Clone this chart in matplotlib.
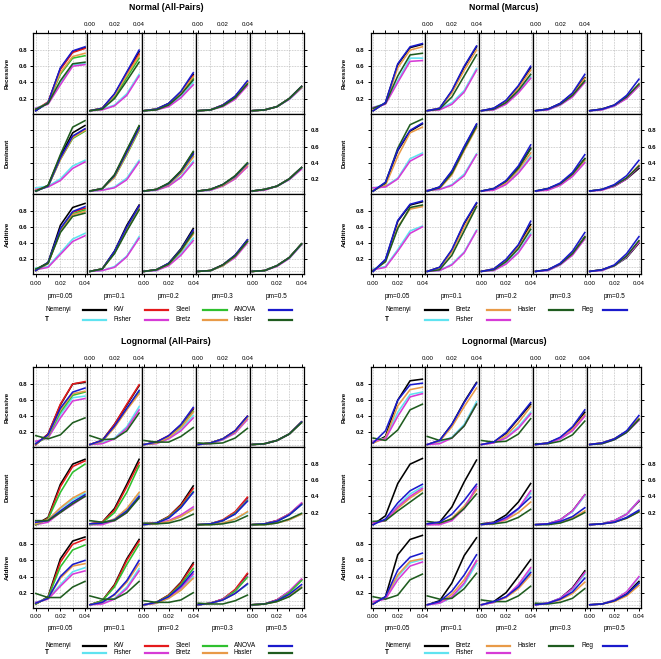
import matplotlib.pyplot as plt
from matplotlib.lines import Line2D

plt.rcParams['font.family'] = ['Liberation Sans', 'DejaVu Sans']

# ---------- data: power curves, [model][pm column][x point] ----------
x_vals = [0.00, 0.01, 0.02, 0.03, 0.04]
pm_labels = ['pm=0.05', 'pm=0.1', 'pm=0.2', 'pm=0.3', 'pm=0.5']
model_labels = ['Recessive', 'Dominant', 'Additive']
y_ticks = [0.2, 0.4, 0.6, 0.8]
x_tick_labels = ['0.00', '', '0.02', '', '0.04']

# Normal (All-Pairs)
na_nemenyi = [[[0.05,0.15,0.57,0.78,0.83],[0.05,0.08,0.25,0.52,0.78],[0.05,0.07,0.14,0.28,0.50],[0.05,0.06,0.12,0.22,0.41],[0.05,0.06,0.10,0.20,0.35]],
              [[0.05,0.12,0.48,0.77,0.86],[0.05,0.08,0.25,0.55,0.85],[0.05,0.07,0.14,0.30,0.53],[0.05,0.07,0.13,0.23,0.39],[0.05,0.07,0.11,0.20,0.34]],
              [[0.07,0.16,0.62,0.84,0.89],[0.05,0.08,0.30,0.62,0.87],[0.05,0.07,0.15,0.33,0.58],[0.05,0.06,0.13,0.25,0.44],[0.05,0.06,0.12,0.22,0.39]]]
na_t = [[[0.08,0.14,0.39,0.62,0.63],[0.05,0.07,0.12,0.26,0.50],[0.05,0.06,0.11,0.22,0.40],[0.05,0.06,0.11,0.20,0.37],[0.05,0.06,0.10,0.19,0.33]],
        [[0.09,0.11,0.20,0.36,0.43],[0.05,0.06,0.10,0.21,0.43],[0.05,0.06,0.12,0.23,0.42],[0.05,0.06,0.12,0.21,0.36],[0.05,0.07,0.11,0.19,0.33]],
        [[0.09,0.11,0.28,0.45,0.52],[0.05,0.06,0.11,0.24,0.48],[0.05,0.06,0.13,0.27,0.46],[0.05,0.06,0.12,0.23,0.41],[0.05,0.06,0.12,0.21,0.38]]]
na_kw = [[[0.06,0.16,0.56,0.77,0.82],[0.05,0.08,0.25,0.50,0.75],[0.05,0.07,0.13,0.27,0.48],[0.05,0.06,0.12,0.22,0.40],[0.05,0.06,0.10,0.20,0.35]],
         [[0.05,0.11,0.45,0.72,0.81],[0.05,0.08,0.23,0.52,0.82],[0.05,0.07,0.14,0.28,0.50],[0.05,0.07,0.12,0.23,0.38],[0.05,0.07,0.11,0.20,0.34]],
         [[0.06,0.15,0.56,0.78,0.83],[0.05,0.08,0.29,0.59,0.85],[0.05,0.07,0.14,0.31,0.54],[0.05,0.06,0.13,0.24,0.43],[0.05,0.06,0.12,0.22,0.39]]]
na_fisher = [[[0.08,0.13,0.37,0.60,0.62],[0.05,0.06,0.11,0.24,0.48],[0.05,0.06,0.10,0.21,0.37],[0.05,0.06,0.10,0.19,0.36],[0.05,0.06,0.10,0.19,0.33]],
             [[0.07,0.10,0.18,0.33,0.41],[0.05,0.06,0.09,0.19,0.41],[0.05,0.06,0.11,0.22,0.40],[0.05,0.06,0.11,0.20,0.35],[0.05,0.06,0.11,0.19,0.32]],
             [[0.07,0.10,0.26,0.42,0.49],[0.05,0.06,0.10,0.23,0.46],[0.05,0.06,0.12,0.25,0.43],[0.05,0.06,0.12,0.22,0.40],[0.05,0.06,0.11,0.21,0.38]]]
na_steel = [[[0.06,0.15,0.50,0.70,0.73],[0.05,0.07,0.22,0.46,0.70],[0.05,0.07,0.13,0.26,0.45],[0.05,0.06,0.11,0.21,0.39],[0.05,0.06,0.10,0.20,0.34]],
            [[0.05,0.11,0.44,0.70,0.79],[0.05,0.08,0.22,0.50,0.80],[0.05,0.07,0.13,0.27,0.48],[0.05,0.07,0.12,0.22,0.38],[0.05,0.07,0.11,0.20,0.34]],
            [[0.06,0.15,0.55,0.76,0.81],[0.05,0.08,0.28,0.57,0.83],[0.05,0.07,0.14,0.30,0.52],[0.05,0.06,0.12,0.24,0.42],[0.05,0.06,0.12,0.22,0.39]]]
na_bretz = [[[0.06,0.15,0.52,0.72,0.76],[0.05,0.08,0.24,0.49,0.73],[0.05,0.07,0.13,0.27,0.47],[0.05,0.06,0.12,0.22,0.40],[0.05,0.06,0.10,0.20,0.34]],
            [[0.06,0.11,0.44,0.71,0.80],[0.05,0.08,0.22,0.51,0.81],[0.05,0.07,0.13,0.27,0.47],[0.05,0.07,0.12,0.22,0.37],[0.05,0.07,0.11,0.20,0.34]],
            [[0.06,0.15,0.54,0.75,0.79],[0.05,0.08,0.28,0.56,0.82],[0.05,0.07,0.14,0.30,0.51],[0.05,0.06,0.12,0.24,0.42],[0.05,0.06,0.12,0.22,0.39]]]
na_anova = [[[0.05,0.15,0.58,0.79,0.84],[0.05,0.08,0.26,0.53,0.80],[0.05,0.07,0.14,0.29,0.52],[0.05,0.06,0.12,0.23,0.42],[0.05,0.06,0.10,0.20,0.35]],
            [[0.05,0.11,0.46,0.73,0.82],[0.05,0.08,0.24,0.53,0.83],[0.05,0.07,0.14,0.29,0.51],[0.05,0.07,0.13,0.23,0.39],[0.05,0.07,0.11,0.20,0.34]],
            [[0.06,0.16,0.58,0.79,0.85],[0.05,0.08,0.30,0.60,0.86],[0.05,0.07,0.15,0.32,0.56],[0.05,0.06,0.13,0.25,0.44],[0.05,0.06,0.12,0.22,0.39]]]
na_hasler = [[[0.07,0.14,0.42,0.63,0.65],[0.05,0.07,0.20,0.42,0.65],[0.05,0.06,0.12,0.25,0.43],[0.05,0.06,0.11,0.21,0.38],[0.05,0.06,0.10,0.20,0.35]],
             [[0.05,0.12,0.50,0.84,0.92],[0.05,0.08,0.25,0.56,0.86],[0.05,0.07,0.15,0.30,0.54],[0.05,0.07,0.13,0.24,0.40],[0.05,0.07,0.11,0.20,0.34]],
             [[0.08,0.15,0.53,0.73,0.77],[0.05,0.08,0.27,0.55,0.81],[0.05,0.07,0.14,0.31,0.53],[0.05,0.06,0.13,0.24,0.42],[0.05,0.06,0.12,0.22,0.39]]]

# Normal (Marcus)
nm_nemenyi = [[[0.05,0.15,0.62,0.83,0.87],[0.05,0.08,0.29,0.59,0.84],[0.05,0.08,0.17,0.35,0.58],[0.05,0.07,0.14,0.26,0.46],[0.05,0.07,0.11,0.21,0.36]],
              [[0.05,0.15,0.55,0.79,0.88],[0.05,0.10,0.29,0.59,0.87],[0.05,0.08,0.17,0.34,0.58],[0.05,0.08,0.14,0.26,0.45],[0.05,0.07,0.11,0.20,0.33]],
              [[0.05,0.19,0.67,0.87,0.91],[0.05,0.10,0.31,0.64,0.89],[0.05,0.08,0.19,0.37,0.63],[0.05,0.07,0.14,0.27,0.48],[0.05,0.07,0.12,0.22,0.40]]]
nm_t = [[[0.09,0.14,0.42,0.70,0.70],[0.05,0.07,0.15,0.30,0.57],[0.05,0.06,0.14,0.28,0.47],[0.05,0.06,0.12,0.23,0.41],[0.05,0.06,0.11,0.21,0.37]],
        [[0.09,0.11,0.21,0.45,0.52],[0.06,0.07,0.13,0.26,0.51],[0.05,0.07,0.14,0.28,0.48],[0.05,0.07,0.13,0.24,0.41],[0.05,0.07,0.12,0.21,0.36]],
        [[0.08,0.11,0.32,0.55,0.61],[0.05,0.06,0.14,0.29,0.56],[0.05,0.06,0.15,0.29,0.52],[0.05,0.06,0.13,0.26,0.46],[0.05,0.06,0.12,0.23,0.42]]]
nm_bretz = [[[0.06,0.14,0.58,0.80,0.84],[0.05,0.08,0.27,0.55,0.80],[0.05,0.07,0.16,0.33,0.55],[0.05,0.07,0.13,0.25,0.45],[0.05,0.07,0.12,0.22,0.38]],
            [[0.06,0.12,0.48,0.77,0.84],[0.05,0.08,0.25,0.55,0.83],[0.05,0.07,0.15,0.31,0.52],[0.05,0.07,0.13,0.25,0.43],[0.05,0.07,0.12,0.21,0.37]],
            [[0.06,0.17,0.60,0.82,0.85],[0.05,0.09,0.29,0.60,0.86],[0.05,0.08,0.18,0.35,0.60],[0.05,0.07,0.14,0.27,0.47],[0.05,0.07,0.12,0.24,0.42]]]
nm_fisher = [[[0.09,0.13,0.40,0.66,0.67],[0.05,0.06,0.13,0.28,0.55],[0.05,0.06,0.13,0.27,0.45],[0.05,0.06,0.12,0.22,0.40],[0.05,0.06,0.11,0.20,0.36]],
             [[0.09,0.10,0.20,0.42,0.50],[0.06,0.07,0.12,0.24,0.50],[0.05,0.06,0.13,0.27,0.46],[0.05,0.06,0.12,0.23,0.40],[0.05,0.06,0.11,0.20,0.35]],
             [[0.07,0.10,0.30,0.52,0.60],[0.05,0.06,0.13,0.28,0.55],[0.05,0.06,0.14,0.28,0.50],[0.05,0.06,0.13,0.25,0.45],[0.05,0.06,0.12,0.23,0.41]]]
nm_hasler = [[[0.08,0.14,0.48,0.74,0.76],[0.05,0.07,0.22,0.48,0.74],[0.05,0.07,0.15,0.30,0.50],[0.05,0.07,0.13,0.24,0.42],[0.05,0.07,0.12,0.22,0.38]],
             [[0.05,0.15,0.58,0.87,0.94],[0.05,0.09,0.27,0.57,0.85],[0.05,0.08,0.17,0.33,0.57],[0.05,0.08,0.14,0.26,0.45],[0.05,0.07,0.12,0.21,0.36]],
             [[0.06,0.17,0.58,0.84,0.87],[0.05,0.07,0.25,0.55,0.85],[0.05,0.07,0.17,0.33,0.57],[0.05,0.07,0.14,0.27,0.47],[0.05,0.07,0.12,0.24,0.43]]]
nm_reg = [[[0.05,0.15,0.63,0.84,0.88],[0.05,0.08,0.30,0.60,0.85],[0.05,0.08,0.18,0.36,0.60],[0.05,0.07,0.14,0.27,0.50],[0.05,0.07,0.12,0.24,0.44]],
          [[0.05,0.16,0.56,0.80,0.89],[0.05,0.10,0.30,0.60,0.88],[0.05,0.08,0.18,0.36,0.62],[0.05,0.08,0.15,0.28,0.50],[0.05,0.07,0.13,0.24,0.43]],
          [[0.05,0.20,0.68,0.88,0.92],[0.05,0.10,0.32,0.65,0.90],[0.05,0.08,0.20,0.38,0.67],[0.05,0.07,0.15,0.30,0.53],[0.05,0.07,0.13,0.27,0.48]]]

# Lognormal (All-Pairs)
la_nemenyi = [[[0.05,0.18,0.54,0.80,0.82],[0.05,0.10,0.30,0.54,0.78],[0.05,0.08,0.15,0.29,0.49],[0.05,0.07,0.12,0.22,0.40],[0.05,0.06,0.10,0.18,0.33]],
              [[0.05,0.14,0.55,0.80,0.86],[0.06,0.08,0.25,0.55,0.86],[0.06,0.07,0.15,0.30,0.53],[0.05,0.06,0.10,0.20,0.38],[0.05,0.06,0.10,0.18,0.31]],
              [[0.06,0.15,0.62,0.84,0.89],[0.05,0.10,0.30,0.62,0.86],[0.05,0.08,0.17,0.33,0.57],[0.05,0.07,0.12,0.23,0.43],[0.05,0.06,0.11,0.21,0.36]]]
la_t = [[[0.08,0.14,0.42,0.63,0.65],[0.05,0.07,0.13,0.27,0.52],[0.05,0.07,0.13,0.24,0.41],[0.05,0.06,0.11,0.20,0.37],[0.05,0.06,0.10,0.18,0.33]],
        [[0.06,0.11,0.25,0.36,0.44],[0.06,0.07,0.12,0.24,0.43],[0.05,0.06,0.09,0.15,0.25],[0.05,0.05,0.07,0.12,0.20],[0.05,0.05,0.07,0.11,0.18]],
        [[0.08,0.13,0.30,0.46,0.51],[0.05,0.07,0.13,0.27,0.50],[0.05,0.07,0.13,0.24,0.40],[0.05,0.07,0.11,0.19,0.30],[0.05,0.06,0.09,0.16,0.27]]]
la_kw = [[[0.05,0.18,0.55,0.80,0.83],[0.05,0.10,0.30,0.55,0.79],[0.05,0.08,0.16,0.29,0.50],[0.05,0.07,0.12,0.22,0.40],[0.05,0.06,0.10,0.18,0.33]],
         [[0.05,0.13,0.52,0.77,0.84],[0.06,0.08,0.23,0.52,0.82],[0.06,0.07,0.15,0.29,0.50],[0.05,0.06,0.11,0.21,0.39],[0.05,0.06,0.10,0.18,0.31]],
         [[0.06,0.14,0.58,0.80,0.86],[0.05,0.10,0.29,0.60,0.84],[0.05,0.08,0.17,0.32,0.55],[0.05,0.07,0.12,0.24,0.44],[0.05,0.06,0.11,0.21,0.36]]]
la_fisher = [[[0.09,0.13,0.38,0.59,0.62],[0.05,0.06,0.12,0.25,0.48],[0.05,0.06,0.12,0.22,0.38],[0.05,0.06,0.11,0.19,0.36],[0.05,0.06,0.10,0.18,0.33]],
             [[0.05,0.08,0.20,0.30,0.40],[0.05,0.05,0.10,0.20,0.40],[0.06,0.07,0.10,0.17,0.27],[0.05,0.06,0.10,0.19,0.36],[0.05,0.06,0.10,0.18,0.32]],
             [[0.08,0.12,0.28,0.43,0.47],[0.05,0.06,0.12,0.25,0.47],[0.05,0.07,0.14,0.26,0.43],[0.05,0.07,0.12,0.22,0.40],[0.05,0.06,0.11,0.22,0.37]]]
la_steel = [[[0.06,0.15,0.45,0.66,0.70],[0.05,0.09,0.27,0.49,0.70],[0.05,0.07,0.14,0.27,0.46],[0.05,0.07,0.12,0.21,0.39],[0.05,0.06,0.10,0.18,0.33]],
            [[0.05,0.12,0.45,0.70,0.80],[0.05,0.07,0.20,0.45,0.78],[0.05,0.07,0.14,0.27,0.46],[0.05,0.06,0.10,0.19,0.35],[0.05,0.06,0.09,0.17,0.30]],
            [[0.06,0.14,0.52,0.73,0.79],[0.05,0.10,0.27,0.55,0.80],[0.05,0.08,0.16,0.30,0.50],[0.05,0.07,0.11,0.22,0.39],[0.05,0.06,0.10,0.20,0.35]]]
la_bretz = [[[0.06,0.16,0.48,0.68,0.71],[0.05,0.09,0.26,0.48,0.68],[0.05,0.07,0.14,0.26,0.45],[0.05,0.07,0.12,0.21,0.38],[0.05,0.06,0.10,0.18,0.33]],
            [[0.06,0.11,0.26,0.38,0.46],[0.06,0.07,0.12,0.25,0.45],[0.05,0.06,0.09,0.15,0.24],[0.05,0.05,0.07,0.12,0.21],[0.05,0.05,0.07,0.11,0.18]],
            [[0.07,0.13,0.38,0.53,0.56],[0.05,0.08,0.17,0.33,0.56],[0.05,0.07,0.13,0.23,0.38],[0.05,0.07,0.11,0.19,0.31],[0.05,0.06,0.09,0.16,0.27]]]
la_anova = [[[0.06,0.17,0.50,0.70,0.75],[0.05,0.10,0.28,0.50,0.72],[0.05,0.08,0.16,0.30,0.51],[0.05,0.07,0.12,0.22,0.40],[0.05,0.06,0.10,0.18,0.33]],
            [[0.08,0.10,0.22,0.33,0.42],[0.06,0.07,0.11,0.22,0.40],[0.05,0.07,0.13,0.26,0.45],[0.05,0.06,0.10,0.18,0.34],[0.05,0.06,0.09,0.17,0.30]],
            [[0.07,0.13,0.40,0.55,0.60],[0.05,0.08,0.18,0.35,0.60],[0.05,0.08,0.15,0.28,0.46],[0.05,0.07,0.11,0.19,0.31],[0.05,0.06,0.10,0.18,0.30]]]
la_hasler = [[[0.16,0.12,0.17,0.32,0.38],[0.16,0.11,0.12,0.22,0.44],[0.10,0.08,0.08,0.15,0.26],[0.07,0.06,0.07,0.13,0.25],[0.05,0.06,0.10,0.18,0.32]],
             [[0.10,0.10,0.20,0.31,0.40],[0.10,0.08,0.10,0.20,0.38],[0.07,0.06,0.07,0.11,0.18],[0.05,0.05,0.06,0.09,0.16],[0.05,0.05,0.07,0.12,0.19]],
             [[0.19,0.14,0.14,0.27,0.34],[0.16,0.12,0.12,0.20,0.34],[0.10,0.08,0.08,0.11,0.20],[0.07,0.06,0.06,0.10,0.17],[0.05,0.06,0.09,0.15,0.26]]]

# Lognormal (Marcus)
lm_nemenyi = [[[0.07,0.15,0.60,0.84,0.86],[0.05,0.10,0.30,0.58,0.82],[0.05,0.08,0.19,0.37,0.55],[0.05,0.07,0.13,0.25,0.45],[0.05,0.07,0.12,0.21,0.37]],
              [[0.05,0.16,0.56,0.80,0.87],[0.06,0.08,0.27,0.58,0.85],[0.06,0.08,0.17,0.33,0.56],[0.05,0.06,0.11,0.22,0.42],[0.05,0.06,0.10,0.18,0.34]],
              [[0.06,0.15,0.67,0.86,0.91],[0.05,0.10,0.32,0.66,0.88],[0.05,0.09,0.20,0.40,0.61],[0.06,0.07,0.13,0.26,0.47],[0.05,0.06,0.10,0.19,0.34]]]
lm_t = [[[0.09,0.13,0.45,0.67,0.70],[0.05,0.08,0.14,0.30,0.58],[0.05,0.07,0.14,0.27,0.45],[0.05,0.06,0.12,0.23,0.41],[0.05,0.06,0.11,0.20,0.36]],
        [[0.08,0.10,0.28,0.43,0.52],[0.05,0.06,0.12,0.27,0.50],[0.05,0.07,0.12,0.24,0.44],[0.05,0.06,0.11,0.21,0.41],[0.05,0.06,0.10,0.18,0.35]],
        [[0.08,0.13,0.40,0.57,0.61],[0.05,0.07,0.14,0.30,0.56],[0.05,0.08,0.15,0.28,0.48],[0.05,0.07,0.13,0.24,0.43],[0.05,0.06,0.11,0.21,0.39]]]
lm_bretz = [[[0.07,0.13,0.53,0.73,0.76],[0.05,0.09,0.27,0.52,0.75],[0.05,0.07,0.16,0.32,0.52],[0.05,0.07,0.13,0.24,0.42],[0.05,0.07,0.12,0.21,0.37]],
            [[0.07,0.10,0.25,0.38,0.48],[0.05,0.06,0.13,0.28,0.48],[0.05,0.06,0.11,0.20,0.33],[0.05,0.06,0.08,0.13,0.22],[0.05,0.06,0.08,0.13,0.21]],
            [[0.07,0.14,0.42,0.59,0.62],[0.05,0.08,0.18,0.36,0.59],[0.05,0.08,0.14,0.25,0.42],[0.05,0.07,0.11,0.19,0.33],[0.05,0.06,0.09,0.16,0.29]]]
lm_fisher = [[[0.09,0.12,0.40,0.64,0.68],[0.05,0.06,0.13,0.28,0.55],[0.05,0.07,0.13,0.25,0.43],[0.05,0.06,0.12,0.22,0.40],[0.05,0.06,0.11,0.20,0.35]],
             [[0.07,0.10,0.27,0.40,0.50],[0.05,0.05,0.10,0.25,0.52],[0.06,0.07,0.12,0.25,0.47],[0.05,0.06,0.11,0.22,0.42],[0.05,0.06,0.10,0.18,0.35]],
             [[0.09,0.12,0.36,0.53,0.58],[0.05,0.07,0.15,0.32,0.60],[0.05,0.08,0.15,0.30,0.51],[0.05,0.07,0.13,0.25,0.45],[0.05,0.06,0.11,0.21,0.40]]]
lm_hasler = [[[0.13,0.10,0.23,0.48,0.55],[0.15,0.10,0.13,0.28,0.55],[0.10,0.08,0.09,0.18,0.37],[0.06,0.06,0.09,0.17,0.34],[0.05,0.06,0.11,0.20,0.36]],
             [[0.09,0.10,0.22,0.33,0.44],[0.09,0.07,0.12,0.25,0.43],[0.06,0.06,0.08,0.14,0.24],[0.05,0.05,0.07,0.12,0.20],[0.05,0.06,0.08,0.13,0.21]],
             [[0.15,0.12,0.17,0.36,0.43],[0.16,0.12,0.13,0.25,0.44],[0.11,0.09,0.09,0.16,0.28],[0.07,0.06,0.08,0.13,0.25],[0.05,0.06,0.10,0.18,0.32]]]
lm_reg = [[[0.07,0.22,0.60,0.79,0.81],[0.05,0.10,0.30,0.57,0.81],[0.05,0.08,0.20,0.38,0.57],[0.05,0.07,0.14,0.27,0.48],[0.05,0.07,0.12,0.22,0.41]],
          [[0.05,0.12,0.32,0.47,0.55],[0.06,0.08,0.18,0.35,0.55],[0.05,0.07,0.14,0.25,0.39],[0.05,0.06,0.09,0.15,0.26],[0.05,0.06,0.08,0.14,0.23]],
          [[0.06,0.15,0.48,0.64,0.69],[0.05,0.09,0.22,0.42,0.67],[0.05,0.09,0.15,0.27,0.45],[0.05,0.07,0.12,0.21,0.38],[0.05,0.06,0.10,0.18,0.32]]]

# ---------- colours ----------
C = {'Nemenyi': '#000000', 'T': '#5fe3f0', 'KW': '#e41a1c', 'Fisher': '#d63bd6',
     'Steel': '#2fc02f', 'Bretz': '#e89a48', 'ANOVA': '#1a1acc', 'Hasler': '#1f5c1f',
     'Reg': '#1a1acc'}

W, H = 661, 659
fig = plt.figure(figsize=(W / 100, H / 100), dpi=100)


def fx(p):
    return p / W


def fy(p):
    return 1 - p / H


quadrants = [
    dict(title='Normal (All-Pairs)', left=33.3, top=33.3, bottom=274.3, tx=166, ty=8, rx=7,
         series=[('Nemenyi', na_nemenyi), ('T', na_t), ('KW', na_kw), ('Fisher', na_fisher),
                 ('Steel', na_steel), ('Bretz', na_bretz), ('ANOVA', na_anova), ('Hasler', na_hasler)],
         key=[(45, 83, 106, ['Nemenyi', 'T']), (114, 145, 168, ['KW', 'Fisher']),
              (176, 203, 227, ['Steel', 'Bretz']), (234, 269, 292, ['ANOVA', 'Hasler'])],
         key_y=(310, 319.5), pm_y=297),
    dict(title='Normal (Marcus)', left=370.7, top=33.3, bottom=274.3, tx=504, ty=8, rx=344,
         series=[('Nemenyi', nm_nemenyi), ('T', nm_t), ('Bretz', nm_bretz), ('Fisher', nm_fisher),
                 ('Hasler', nm_hasler), ('Reg', nm_reg)],
         key=[(385, 425, 448, ['Nemenyi', 'T']), (456, 487, 510, ['Bretz', 'Fisher']),
              (518, 549, 573, ['Hasler']), (581, 603, 627, ['Reg'])],
         key_y=(310, 319.5), pm_y=297),
    dict(title='Lognormal (All-Pairs)', left=33.3, top=367.3, bottom=607.7, tx=166, ty=341, rx=7,
         series=[('Nemenyi', la_nemenyi), ('T', la_t), ('KW', la_kw), ('Fisher', la_fisher),
                 ('Steel', la_steel), ('Bretz', la_bretz), ('ANOVA', la_anova), ('Hasler', la_hasler)],
         key=[(45, 83, 106, ['Nemenyi', 'T']), (114, 145, 168, ['KW', 'Fisher']),
              (176, 203, 227, ['Steel', 'Bretz']), (234, 269, 292, ['ANOVA', 'Hasler'])],
         key_y=(645.5, 653), pm_y=629),
    dict(title='Lognormal (Marcus)', left=370.7, top=367.3, bottom=607.7, tx=504, ty=341.5, rx=344,
         series=[('Nemenyi', lm_nemenyi), ('T', lm_t), ('Bretz', lm_bretz), ('Fisher', lm_fisher),
                 ('Hasler', lm_hasler), ('Reg', lm_reg)],
         key=[(385, 425, 448, ['Nemenyi', 'T']), (456, 487, 510, ['Bretz', 'Fisher']),
              (518, 549, 573, ['Hasler']), (581, 603, 627, ['Reg'])],
         key_y=(645.5, 653), pm_y=629),
]

PW = 54.14
GRID = dict(color='#aaaaaa', lw=0.5, ls=(0, (1, 1.3)), zorder=0)
for q in quadrants:
    PH = (q['bottom'] - q['top']) / 3
    for r in range(3):
        for c in range(5):
            x0 = q['left'] + c * PW
            y0 = q['top'] + r * PH
            ax = fig.add_axes([fx(x0), fy(y0 + PH), PW / W, PH / H])
            for gx in x_vals:
                ax.axvline(gx, **GRID)
            for gy in [0.05, 0.1] + y_ticks:
                ax.axhline(gy, **GRID)
            for name, vals in q['series']:
                ax.plot(x_vals, vals[r][c], color=C[name], lw=1.15, solid_joinstyle='round')
            ax.set_xlim(-0.002, 0.042)
            ax.set_ylim(0.014, 1.007)
            ax.set_xticks(x_vals)
            ax.set_xticklabels(x_tick_labels)
            ax.set_yticks(y_ticks)
            ax.set_yticklabels(['0.2', '0.4', '0.6', '0.8'])
            ax.tick_params(direction='out', length=2.4, width=0.7, labelsize=4.4, pad=2.2,
                           top=(r == 0), bottom=(r == 2), left=(c == 0), right=(c == 4),
                           labeltop=(r == 0 and c % 2 == 1), labelbottom=(r == 2 and c % 2 == 0),
                           labelleft=(c == 0 and r != 1), labelright=(c == 4 and r == 1))
            for lab in ax.get_yticklabels():
                lab.set_fontweight('bold')
            for s in ax.spines.values():
                s.set_linewidth(0.9)

    # titles, strip labels
    fig.text(fx(q['tx']), fy(q['ty']), q['title'], ha='center', va='center',
             fontsize=6.3, fontweight='bold')
    for r, lab in enumerate(model_labels):
        fig.text(fx(q['rx']), fy(q['top'] + (r + 0.5) * PH), lab, rotation=90,
                 ha='center', va='center', fontsize=4.6, fontweight='bold')
    for c, lab in enumerate(pm_labels):
        fig.text(fx(q['left'] + (c + 0.5) * PW), fy(q['pm_y']), lab,
                 ha='center', va='center', fontsize=4.7)

    # key
    for tx, l0, l1, names in q['key']:
        for i, name in enumerate(names):
            yk = q['key_y'][i]
            fig.text(fx(tx), fy(yk), name, ha='left', va='center', fontsize=4.7,
                     fontweight='bold' if name == 'T' else 'normal')
            fig.add_artist(Line2D([fx(l0), fx(l1)], [fy(yk), fy(yk)], color=C[name],
                                  lw=1.6, transform=fig.transFigure))

fig.savefig('out.png', dpi=100)
